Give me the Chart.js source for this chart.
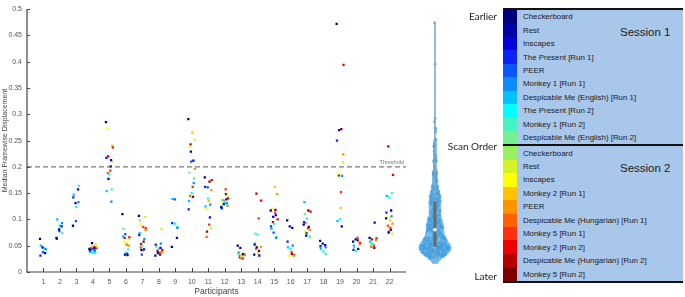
<!DOCTYPE html>
<html>
<head>
<meta charset="utf-8">
<script src="https://cdn.jsdelivr.net/npm/chart.js@4.4.1/dist/chart.umd.min.js"></script>
<style>
  body { margin:0; background:#fff; width:685px; height:297px; position:relative; overflow:hidden; font-family:"Liberation Sans", Arial, sans-serif; }
  #main { position:absolute; left:0; top:0; }
  #violin { position:absolute; left:405px; top:0; }
  .side { position:absolute; font-family:Lato, sans-serif; font-size:10px; color:#222; text-align:right; width:90px; }
  #legend { position:absolute; left:503px; top:8px; width:180px; }
  .sess { position:relative; background:#a9c7ea; border-top:2px solid #111; }
  .sess.last { border-bottom:2px solid #111; }
  .row { height:13.45px; display:flex; align-items:center; }
  .sw { width:14px; height:100%; }
  .lbl { padding-left:6px; font-size:7.9px; color:#1a1a1a; white-space:nowrap; }
  .stitle { position:absolute; left:117px; font-size:11.5px; color:#222; }
</style>
</head>
<body>
<canvas id="main" width="410" height="297"></canvas>
<canvas id="violin" width="60" height="297"></canvas>
<div class="side" style="left:407px;top:10px;">Earlier</div>
<div class="side" style="left:407px;top:140px;">Scan Order</div>
<div class="side" style="left:407px;top:270px;">Later</div>
<div id="legend"></div>

<script>
// scan order (colour) names and colours
const scanNames = [
  'Checkerboard', 'Rest', 'Inscapes', 'The Present [Run 1]', 'PEER',
  'Monkey 1 [Run 1]', 'Despicable Me (English) [Run 1]', 'The Present [Run 2]',
  'Monkey 1 [Run 2]', 'Despicable Me (English) [Run 2]',
  'Checkerboard', 'Rest', 'Inscapes', 'Monkey 2 [Run 1]', 'PEER',
  'Despicable Me (Hungarian) [Run 1]', 'Monkey 5 [Run 1]', 'Monkey 2 [Run 2]',
  'Despicable Me (Hungarian) [Run 2]', 'Monkey 5 [Run 2]'
];
const scanColors = [
  '#00007c', '#0000a8', '#0000dc', '#0a22f6', '#0a55ff', '#0a8cff', '#00c2ff', '#00ffff',
  '#44f2c2', '#74f090', '#98ef60', '#d2f224', '#ffff00', '#ffc200', '#ff9400', '#ff6000',
  '#ff3010', '#ee0000', '#b40000', '#7c0000'
];
const participants = [1,2,3,4,5,6,7,8,9,10,11,12,13,14,15,16,17,18,19,20,21,22];
const yTicks = [0,0.05,0.1,0.15,0.2,0.25,0.3,0.35,0.4,0.45,0.5];
const threshold = 0.2;

// median framewise displacement per participant, one value per scan (null = not scanned)
const _ = null;
const p01 = [0.063,0.047,0.036,0.031,0.038,0.044,0.050,0.045,0.042,_, _,_,_,_,_,_,_,_,_,_];
const p02 = [0.065,0.081,0.087,0.063,0.078,0.093,0.100,0.088,0.074,_, _,_,_,_,_,_,_,_,_,_];
const p03 = [0.088,0.131,0.157,0.142,0.097,0.133,0.147,0.124,0.164,_, _,_,_,_,_,_,_,_,_,_];
const p04 = [0.044,0.055,0.046,0.041,0.043,0.040,0.039,0.037,0.036,0.038, 0.036,0.052,0.050,0.045,0.047,0.046,0.048,0.045,0.044,0.043];
const p05 = [0.285,0.177,0.213,0.217,_,0.134,0.154,0.186,0.157,_, _,0.210,0.273,_,0.240,0.188,0.193,0.237,0.220,0.201];
const p06 = [0.110,0.033,0.032,_,0.072,_,0.068,0.037,0.043,0.082, _,0.062,0.058,0.054,0.050,_,0.052,0.066,0.065,0.035];
const p07 = [0.107,0.042,0.043,0.070,0.033,0.063,0.074,0.050,_,0.098, _,0.105,0.090,0.040,0.080,0.047,0.086,0.083,0.053,0.058];
const p08 = [0.031,0.036,0.046,0.052,_,0.054,_,0.044,_,0.048, _,0.082,0.050,_,0.038,_,0.037,0.042,0.040,0.033];
const p09 = [0.048,_,0.065,0.093,0.138,0.084,0.139,0.092,0.086,_, _,_,_,_,_,_,_,_,_,_];
const p10 = [0.291,0.229,0.212,0.119,0.210,0.169,0.135,0.150,0.178,0.189, _,0.252,0.238,0.265,0.196,0.145,0.162,_,0.243,0.143];
const p11 = [0.180,_,0.104,0.162,0.161,0.128,0.125,0.140,_,_, _,0.084,0.120,0.135,0.156,0.067,0.090,0.175,0.077,0.172];
const p12 = [0.124,0.129,0.138,0.121,_,0.131,0.122,0.132,0.127,0.137, _,0.146,0.133,_,0.126,0.134,0.157,0.140,0.136,0.148];
const p13 = [0.050,0.046,0.034,_,_,_,0.036,_,_,0.038, 0.029,_,0.035,0.030,0.032,0.031,0.027,0.033,0.028,0.026];
const p14 = [0.033,0.047,0.031,0.052,_,_,0.054,0.071,_,0.073, _,_,0.050,0.035,0.048,0.044,0.102,0.136,0.149,0.040];
const p15 = [0.117,0.105,0.108,0.087,0.075,0.065,0.082,0.092,0.067,_, _,_,0.121,0.162,0.148,_,0.113,0.100,0.095,0.118];
const p16 = [0.098,0.087,0.084,0.058,_,0.050,0.047,0.044,_,_, _,_,0.030,_,0.031,_,0.038,0.032,_,0.034];
const p17 = [0.090,0.069,0.086,0.095,0.074,_,0.133,0.102,0.068,0.110, _,0.066,0.077,_,0.080,0.093,0.083,0.115,_,0.117];
const p18 = [0.059,0.054,0.051,0.049,_,0.047,0.044,0.039,0.034,_, _,_,_,_,_,_,_,_,_,_];
const p19 = [0.472,0.270,0.087,0.250,_,0.183,0.097,0.100,_,_, _,0.209,0.187,0.122,0.224,_,0.152,0.394,0.184,0.272];
const p20 = [0.058,0.062,0.044,0.042,_,_,0.050,0.040,_,0.048, _,_,0.047,_,0.052,_,0.065,0.055,_,0.060];
const p21 = [0.065,_,0.094,_,_,_,0.058,0.054,_,0.052, _,_,0.056,_,0.060,0.048,0.050,0.064,0.062,0.046];
const p22 = [0.102,0.075,0.117,0.113,0.077,0.106,0.145,0.142,0.150,_, _,0.073,0.104,0.098,0.092,0.088,0.084,0.185,0.239,0.080];
const allParticipants = [p01,p02,p03,p04,p05,p06,p07,p08,p09,p10,p11,p12,p13,p14,p15,p16,p17,p18,p19,p20,p21,p22];

// ---------- legend ----------
const legend = document.getElementById('legend');
[0, 10].forEach(function (start, s) {
  const box = document.createElement('div');
  box.className = 'sess' + (s === 1 ? ' last' : '');
  for (let i = start; i < start + 10; i++) {
    const r = document.createElement('div');
    r.className = 'row';
    r.innerHTML = '<div class="sw" style="background:' + scanColors[i] + '"></div><div class="lbl">' + scanNames[i] + '</div>';
    box.appendChild(r);
  }
  const t = document.createElement('div');
  t.className = 'stitle';
  t.style.top = '16px';
  t.textContent = 'Session ' + (s + 1);
  box.appendChild(t);
  legend.appendChild(box);
});

// ---------- strip plot ----------
const datasets = scanNames.map(function (name, i) {
  const jit = ((i * 7) % 20 / 19 - 0.5) * 0.42;
  const pts = [];
  allParticipants.forEach(function (arr, k) {
    if (arr[i] !== null) pts.push({x: participants[k] + jit, y: arr[i]});
  });
  return {
    type: 'scatter', label: name, data: pts,
    backgroundColor: scanColors[i], borderColor: scanColors[i],
    pointStyle: 'rect', pointRadius: 1.6, borderWidth: 0
  };
});

const fam = '"Liberation Sans", Arial, sans-serif';
const tickFont = {family: fam, size: 7};

const mainExtras = {
  id: 'mainExtras',
  beforeDatasetsDraw(chart) {
    const c = chart.ctx, xs = chart.scales.x, ys = chart.scales.y;
    const yy = ys.getPixelForValue(threshold);
    c.save();
    c.strokeStyle = '#7a7a7a'; c.lineWidth = 1.2; c.setLineDash([5, 3]);
    c.beginPath(); c.moveTo(xs.left, yy); c.lineTo(xs.right, yy); c.stroke();
    c.setLineDash([]);
    c.fillStyle = '#777'; c.font = '5.5px ' + fam; c.textAlign = 'right';
    c.fillText('Threshold', xs.right - 2, yy - 3);
    c.restore();
  },
  afterDraw(chart) {
    const c = chart.ctx, xs = chart.scales.x, ys = chart.scales.y;
    c.save();
    c.strokeStyle = '#444'; c.lineWidth = 1.2;
    c.beginPath();
    c.moveTo(xs.left, ys.top); c.lineTo(xs.left, ys.bottom); c.lineTo(xs.right, ys.bottom);
    c.stroke();
    c.lineWidth = 1;
    yTicks.forEach(function (v) {
      const p = Math.round(ys.getPixelForValue(v)) + 0.5;
      c.beginPath(); c.moveTo(xs.left, p); c.lineTo(xs.left + 3, p); c.stroke();
    });
    participants.forEach(function (v) {
      const p = Math.round(xs.getPixelForValue(v)) + 0.5;
      c.beginPath(); c.moveTo(p, ys.bottom); c.lineTo(p, ys.bottom - 4); c.stroke();
    });
    c.restore();
  }
};

new Chart(document.getElementById('main'), {
  type: 'scatter',
  data: {datasets: datasets},
  options: {
    responsive: false, animation: false,
    layout: {padding: {top: 8, right: 3, left: 0, bottom: 0}},
    plugins: {legend: {display: false}, tooltip: {enabled: false}},
    scales: {
      x: {
        type: 'linear', min: 0, max: 23,
        afterFit(s) { s.height = 25; },
        grid: {display: false, drawTicks: false},
        border: {display: false},
        afterBuildTicks(s) { s.ticks = participants.map(v => ({value: v})); },
        ticks: {font: tickFont, color: '#555', padding: 6, maxRotation: 0, autoSkip: false},
        title: {display: true, text: 'Participants', font: {family: fam, size: 8.5}, color: '#444', padding: {top: 1, bottom: 0}}
      },
      y: {
        min: 0, max: 0.5,
        afterFit(s) { s.width = 27; },
        grid: {display: false, drawTicks: false},
        border: {display: false},
        afterBuildTicks(s) { s.ticks = yTicks.map(v => ({value: v})); },
        ticks: {font: tickFont, color: '#555', padding: 5, callback: v => String(+v.toFixed(2))},
        title: {display: true, text: 'Median Framewise Displacement', font: {family: fam, size: 7}, color: '#444', padding: {top: 1, bottom: 0}}
      }
    }
  },
  plugins: [mainExtras]
});

// ---------- violin of all scans ----------
const allValues = [];
allParticipants.forEach(arr => arr.forEach(v => { if (v !== null) allValues.push(v); }));
const sorted = allValues.slice().sort((a, b) => a - b);
function quant(q) {
  const pos = (sorted.length - 1) * q, lo = Math.floor(pos);
  return sorted[lo] + (sorted[Math.min(lo + 1, sorted.length - 1)] - sorted[lo]) * (pos - lo);
}
const bw = 0.011;
function dens(y) {
  let s = 0;
  for (const v of allValues) { const z = (y - v) / bw; s += Math.exp(-0.5 * z * z); }
  return s;
}
const yLo = sorted[0] - 0.01, yHi = sorted[sorted.length - 1];
let maxD = 0;
const grid = [];
for (let y = yLo; y <= yHi + 1e-9; y += 0.002) { const d = dens(y); grid.push([y, d]); if (d > maxD) maxD = d; }
const halfW = 0.62;
const shape = [];
grid.forEach(g => shape.push({x: g[1] / maxD * halfW, y: g[0]}));
grid.slice().reverse().forEach(g => shape.push({x: -g[1] / maxD * halfW, y: g[0]}));
shape.push(shape[0]);

const swarm = allValues.map(function (v, k) {
  const u = ((k * 0.618034) % 1) * 2 - 1;
  return {x: u * Math.max(dens(v) / maxD * halfW, 0.03) * 0.92, y: v};
});

new Chart(document.getElementById('violin'), {
  type: 'scatter',
  data: {datasets: [
    {data: [{x: 0, y: quant(0.5)}], pointRadius: 1.8, backgroundColor: '#fff', borderWidth: 0},
    {data: [{x: 0, y: quant(0.25)}, {x: 0, y: quant(0.75)}], showLine: true, borderColor: '#6a6a6a', borderWidth: 3, pointRadius: 0},
    {data: [{x: 0, y: sorted[0]}, {x: 0, y: yHi}], showLine: true, borderColor: 'rgba(165,165,165,0.85)', borderWidth: 1, pointRadius: 0},
    {data: swarm, pointRadius: 1.5, backgroundColor: 'rgba(70,160,222,0.7)', borderWidth: 0},
    {data: shape, showLine: true, fill: 'shape', backgroundColor: 'rgba(98,178,232,0.9)', borderColor: 'rgba(98,178,232,0.9)', borderWidth: 0.5, pointRadius: 0, tension: 0}
  ]},
  options: {
    responsive: false, animation: false,
    layout: {padding: {top: 8, bottom: 25, left: 0, right: 0}},
    plugins: {legend: {display: false}, tooltip: {enabled: false}},
    scales: {
      x: {display: false, min: -1, max: 1},
      y: {display: false, min: 0, max: 0.5}
    }
  }
});
</script>
</body>
</html>
